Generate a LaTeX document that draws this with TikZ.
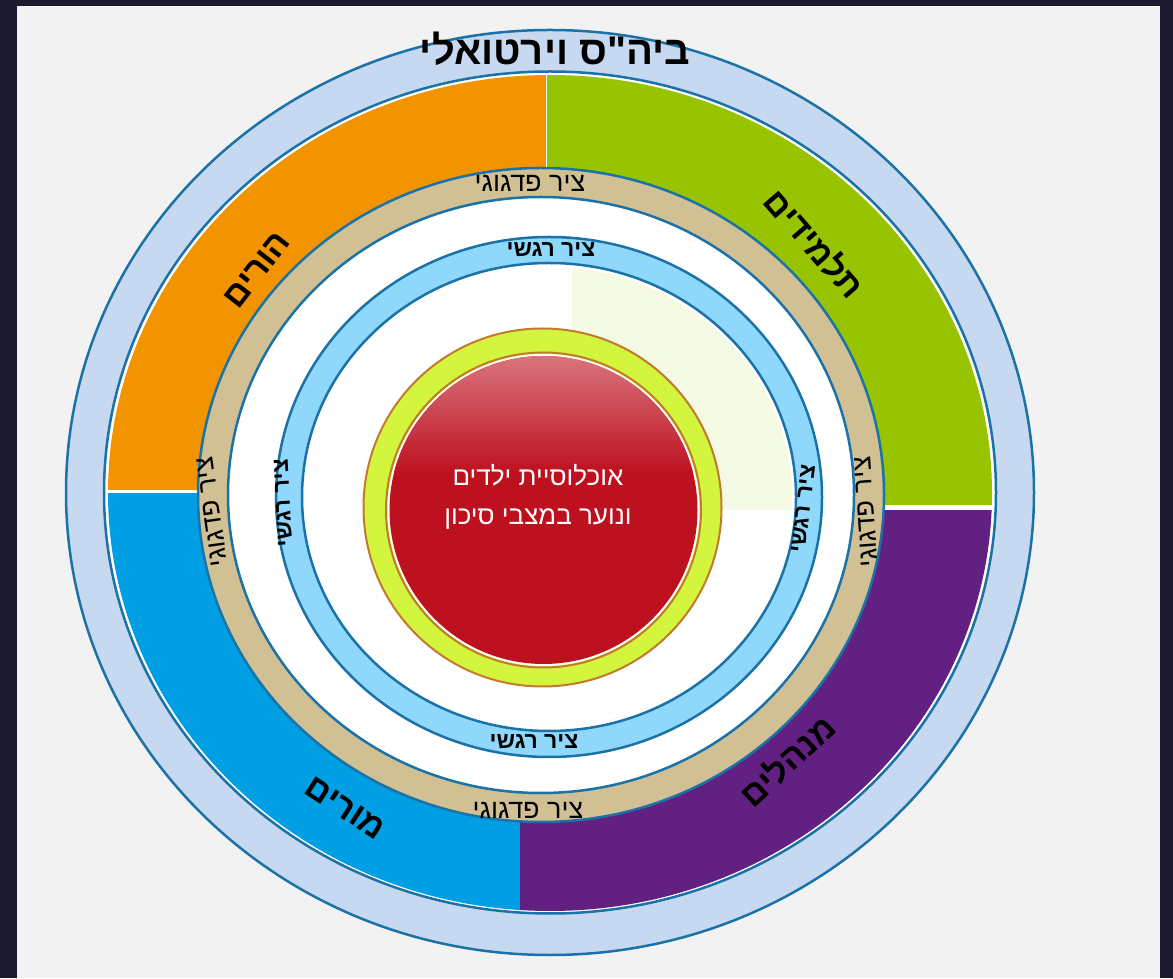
\documentclass[tikz,border=0pt]{standalone}
\usepackage{fontspec}
\usepackage{xcolor}
\usepackage{tikz}
\TeXXeTstate=1
\newfontfamily\hebfont[Script=Hebrew]{Liberation Sans}
\definecolor{pagedark}{HTML}{1C1A2F}
\definecolor{panelgray}{HTML}{F2F2F2}
\definecolor{ringedge}{HTML}{1A72A6}
\definecolor{outerblue}{HTML}{C6D9F0}
\definecolor{segorange}{HTML}{F29400}
\definecolor{seggreen}{HTML}{97C300}
\definecolor{segpurple}{HTML}{632083}
\definecolor{segblue}{HTML}{009FE3}
\definecolor{pedtan}{HTML}{D0C094}
\definecolor{emosky}{HTML}{8FD8FC}
\definecolor{limering}{HTML}{D3F53D}
\definecolor{limeedge}{HTML}{C27A2B}
\definecolor{coretop}{HTML}{D9747D}
\definecolor{corered}{HTML}{BD111F}
\definecolor{palelime}{HTML}{F5FAE4}
\tikzset{
    every node/.style={font=\hebfont},
    schooltitle/.style={font=\hebfont\bfseries\fontsize{40}{44}\selectfont},
    grouplabel/.style={font=\hebfont\bfseries\fontsize{34}{38}\selectfont},
    pedlabel/.style={font=\hebfont\fontsize{27}{30}\selectfont},
    emolabel/.style={font=\hebfont\bfseries\fontsize{23}{26}\selectfont},
    corelabel/.style={font=\hebfont\fontsize{26}{39}\selectfont, text=white, align=center},
    ringline/.style={draw=ringedge, line width=2.5pt},
    limeline/.style={draw=limeedge, line width=2pt}
}

\begin{document}
\begin{tikzpicture}[x=1pt, y=1pt]
    \fill[pagedark] (0,0) rectangle (1173,978);
    \fill[panelgray] (17,0) rectangle (1160,972);
    \useasboundingbox (0,0) rectangle (1173,978);

    \draw[ringline, fill=outerblue] (550,485.5) ellipse [x radius=484, y radius=462.5];
    \draw[ringline, fill=white] (550,485.5) ellipse [x radius=446, y radius=421];

    \begin{scope}
        \clip (550,485) ellipse [x radius=442, y radius=418];
        \fill[segorange] (90,487.5) rectangle (545.5,920);
        \fill[seggreen] (546.5,473) rectangle (1010,920);
        \fill[segpurple] (520,468) rectangle (1010,50);
        \fill[segblue] (90,485) rectangle (520,50);
    \end{scope}

    \draw[ringline, fill=pedtan] (541,483) ellipse [x radius=343, y radius=327];
    \draw[ringline, fill=white] (541,483) ellipse [x radius=313, y radius=298];

    \draw[ringline, fill=emosky] (549,481) ellipse [x radius=273, y radius=260];
    \draw[ringline, fill=white] (549,481) ellipse [x radius=247, y radius=234];

    \begin{scope}
        \clip (549,481) ellipse [x radius=243, y radius=230];
        \fill[palelime] (572,468) rectangle (800,720);
    \end{scope}

    \draw[limeline, fill=limering] (542.5,470.5) circle [radius=179];
    \draw[limeline] (543.5,468) circle [radius=157.5];
    \fill[white] (543.5,468) circle [radius=156];
    \fill[corered] (543.5,468) circle [radius=154];
    \begin{scope}
        \clip (543.5,468) circle [radius=154];
        \shade[top color=coretop, bottom color=corered] (389,622) rectangle (698,505);
    \end{scope}

    \node[schooltitle] (school) at (555,929) {\beginR ביה"ס וירטואלי\endR};

    \node[grouplabel, rotate=52] (parents) at (257,708) {\beginR הורים\endR};
    \node[grouplabel, rotate=-49] (students) at (815,735) {\beginR תלמידים\endR};
    \node[grouplabel, rotate=43] (managers) at (787,218) {\beginR מנהלים\endR};
    \node[grouplabel, rotate=-33] (teachers) at (345,170) {\beginR מורים\endR};

    \node[pedlabel] (pedtop) at (530,795) {\beginR ציר פדגוגי\endR};
    \node[pedlabel] (pedbottom) at (528,168) {\beginR ציר פדגוגי\endR};
    \node[pedlabel, rotate=98] (pedleft) at (212,466) {\beginR ציר פדגוגי\endR};
    \node[pedlabel, rotate=94] (pedright) at (866,466) {\beginR ציר פדגוגי\endR};

    \node[emolabel] (emotop) at (551,728) {\beginR ציר רגשי\endR};
    \node[emolabel] (emobottom) at (534,236) {\beginR ציר רגשי\endR};
    \node[emolabel, rotate=93] (emoleft) at (283,475) {\beginR ציר רגשי\endR};
    \node[emolabel, rotate=83] (emoright) at (803,469) {\beginR ציר רגשי\endR};

    \node[corelabel] (core) at (538,481) {\beginR אוכלוסיית ילדים\endR\\\beginR ונוער במצבי סיכון\endR};
\end{tikzpicture}
\end{document}
